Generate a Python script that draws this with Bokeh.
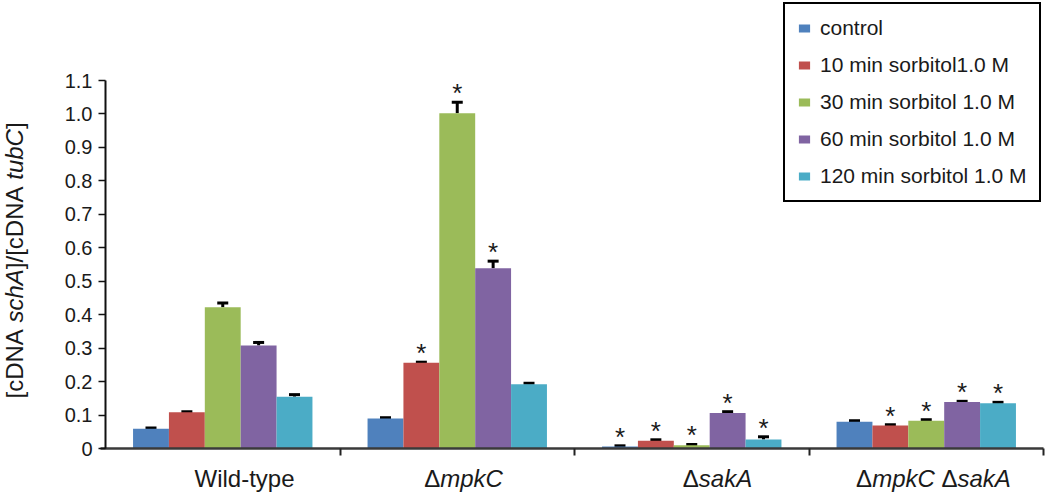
import math
from bokeh.plotting import figure
from bokeh.models import Range1d, FixedTicker, Whisker, TeeHead, Label, ColumnDataSource
from bokeh.core.properties import value
from bokeh.embed import file_html
from bokeh.resources import INLINE

# ---------------- data ----------------
groups = ["Wild-type", "ΔmpkC", "ΔsakA", "ΔmpkC ΔsakA"]
series = ["control", "10 min sorbitol1.0 M", "30 min sorbitol 1.0 M",
          "60 min sorbitol 1.0 M", "120 min sorbitol 1.0 M"]
colors = ["#4F81BD", "#C0504D", "#9BBB59", "#8064A2", "#4BACC6"]

control = [0.059, 0.090, 0.006, 0.080]
min10 = [0.108, 0.256, 0.023, 0.069]
min30 = [0.422, 1.002, 0.010, 0.083]
min60 = [0.308, 0.539, 0.106, 0.139]
min120 = [0.155, 0.192, 0.027, 0.135]

err_control = [0.002, 0.002, 0.002, 0.003]
err_min10 = [0.002, 0.002, 0.003, 0.002]
err_min30 = [0.013, 0.033, 0.002, 0.003]
err_min60 = [0.009, 0.021, 0.004, 0.002]
err_min120 = [0.006, 0.003, 0.008, 0.003]

star_control = [False, False, True, False]
star_min10 = [False, True, True, True]
star_min30 = [False, True, True, True]
star_min60 = [False, True, True, True]
star_min120 = [False, False, True, True]

yticks = [0, 0.1, 0.2, 0.3, 0.4, 0.5, 0.6, 0.7, 0.8, 0.9, 1.0, 1.1]
ytick_labels = ["0", "0.1", "0.2", "0.3", "0.4", "0.5", "0.6", "0.7", "0.8", "0.9", "1.0", "1.1"]
group_bounds = [1, 2, 3, 4]

ylabel_parts = [("[cDNA ", False), ("schA", True), ("]/[cDNA ", False), ("tubC", True), ("]", False)]

values = [control, min10, min30, min60, min120]
errors = [err_control, err_min10, err_min30, err_min60, err_min120]
stars = [star_control, star_min10, star_min30, star_min60, star_min120]

# ---------------- layout (pixels) ----------------
W, H = 1050, 498
X0PX, X4PX = 105, 1043      # x pixel of group axis start / end
Y0PX, Y11PX = 448, 80       # pixel of value 0 and 1.1
XS = (X4PX - X0PX) / 4.0
YS = (Y0PX - Y11PX) / 1.1
FONT = "Liberation Sans"
BW = 0.153
GROUP_LABEL_CENTER_PX = [244, 463, 717, 933]
GROUP_LABEL_BASE_PX = 478
YLABEL_BASE_PX = 14
YLABEL_START_PX = 398

CW = {'W': 0.944, 'i': 0.222, 'l': 0.222, 'd': 0.556, '-': 0.333, 't': 0.278, 'y': 0.5,
      'p': 0.556, 'e': 0.556, 'Δ': 0.668, 'm': 0.833, 'k': 0.5, 'C': 0.722, ' ': 0.278,
      's': 0.5, 'a': 0.556, 'A': 0.667, '[': 0.278, ']': 0.278, '/': 0.278, 'c': 0.5,
      'D': 0.722, 'N': 0.722, 'h': 0.556, 'u': 0.556, 'b': 0.556}


def tw(s, size):
    return sum(CW.get(c, 0.556) for c in s) * size


def dx(px):
    return (px - X0PX) / XS


def dy(py):
    return (Y0PX - py) / YS


p = figure(width=W, height=H, output_backend="svg", toolbar_location=None,
           x_range=Range1d(dx(0), dx(W)), y_range=Range1d(dy(H), dy(0)),
           min_border_left=0, min_border_right=0, min_border_top=0, min_border_bottom=0)
p.outline_line_color = None
p.xgrid.visible = False
p.ygrid.visible = False
p.background_fill_color = "white"
p.border_fill_color = "white"

for k in range(5):
    xs = [i + 0.5 + (k - 2) * BW for i in range(4)]
    src = ColumnDataSource(dict(x=xs, top=values[k],
                                up=[v + e for v, e in zip(values[k], errors[k])]))
    p.vbar(x="x", top="top", width=BW, source=src, fill_color=colors[k],
           line_color=None, legend_label=series[k])
    p.add_layout(Whisker(base="x", lower="top", upper="up", source=src,
                         dimension="height", line_width=3, line_color="black",
                         upper_head=TeeHead(size=11, line_width=3, line_color="black"),
                         lower_head=None))
    sx = [x for x, s in zip(xs, stars[k]) if s]
    sy = [v + e for v, e, s in zip(values[k], errors[k], stars[k]) if s]
    p.text(x=sx, y=sy, text=["*"] * len(sx), text_align="center",
           text_baseline="alphabetic", text_font=value(FONT),
           text_font_size="26px", text_color="#1a1a1a", y_offset=-9)

# y axis at x = 0
yax = p.yaxis[0]
yax.fixed_location = 0
yax.ticker = FixedTicker(ticks=yticks)
yax.major_label_overrides = dict(zip(yticks, ytick_labels))
yax.bounds = (0, 1.1)
yax.major_tick_out = 7
yax.major_tick_in = 0
yax.minor_tick_out = 0
yax.minor_tick_in = 0
yax.major_tick_line_width = 1.5
yax.axis_line_width = 2
yax.axis_line_color = "#111111"
yax.major_tick_line_color = "#111111"
yax.major_label_text_font = FONT
yax.major_label_text_font_size = "20px"
yax.major_label_text_color = "#1a1a1a"
yax.major_label_standoff = 6

# x axis at y = 0: only group boundary ticks
xax = p.xaxis[0]
xax.fixed_location = 0
xax.ticker = FixedTicker(ticks=[], minor_ticks=group_bounds)
xax.bounds = (dx(100), 4)
xax.major_tick_out = 0
xax.major_tick_in = 0
xax.minor_tick_out = 7
xax.minor_tick_in = 0
xax.minor_tick_line_width = 2
xax.minor_tick_line_color = "#222222"
xax.axis_line_width = 2.5
xax.axis_line_color = "#3a3a3a"

# group labels (Δ upright, gene names italic)
GS = 24
label_y = dy(GROUP_LABEL_BASE_PX)
for i, g in enumerate(groups):
    parts = []
    if "Δ" in g:
        for seg in g.split("Δ"):
            if seg == "":
                continue
            parts.append(("Δ", False))
            parts.append((seg, True))
    else:
        parts.append((g, False))
    total = sum(tw(t, GS) for t, _ in parts)
    cum = GROUP_LABEL_CENTER_PX[i] - total / 2.0
    for t, it in parts:
        p.add_layout(Label(x=dx(cum), y=label_y, text=t,
                           text_font=FONT, text_font_size=f"{GS}px",
                           text_font_style="italic" if it else "normal",
                           text_color="#1a1a1a", text_align="left",
                           text_baseline="alphabetic"))
        cum += tw(t, GS)

# y-axis label, rotated, mixed styles
LS = 24
lx = dx(YLABEL_BASE_PX)
cum = 0.0
for t, it in ylabel_parts:
    p.add_layout(Label(x=lx, y=dy(YLABEL_START_PX - cum), text=t, angle=math.pi / 2,
                       text_font=FONT, text_font_size=f"{LS}px",
                       text_font_style="italic" if it else "normal",
                       text_color="#1a1a1a", text_align="left",
                       text_baseline="alphabetic"))
    cum += tw(t, LS)

# legend
lg = p.legend[0]
lg.location = (783, H - 202)
lg.margin = 0
lg.padding = 12
lg.spacing = 13
lg.label_height = 24
lg.glyph_height = 10
lg.glyph_width = 14
lg.label_standoff = 9
lg.label_text_font = FONT
lg.label_text_font_size = "21px"
lg.label_text_color = "#1a1a1a"
lg.border_line_color = "black"
lg.border_line_alpha = 1.0
lg.border_line_width = 2.5
lg.background_fill_color = "white"
lg.background_fill_alpha = 1.0

open("out.html", "w").write(file_html(p, INLINE))
